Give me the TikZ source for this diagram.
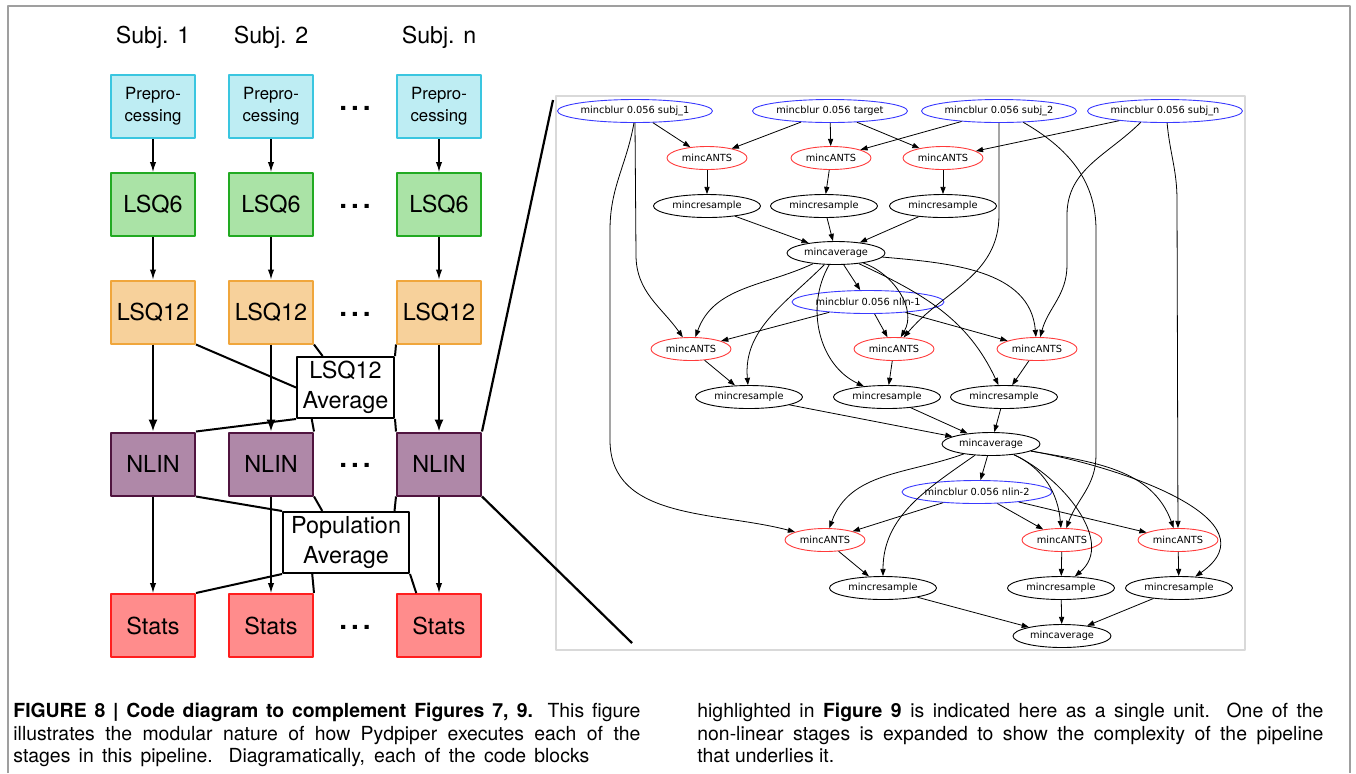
\documentclass[tikz,border=0pt]{standalone}
\usepackage{fontspec}
\setmainfont{TeX Gyre Heros}
\newfontfamily\gvfont{DejaVu Sans}
\usetikzlibrary{arrows.meta,shapes.geometric}
\definecolor{preFill}{HTML}{BEEDF3}
\definecolor{preLine}{HTML}{3AC6E0}
\definecolor{sixFill}{HTML}{AAE3A6}
\definecolor{sixLine}{HTML}{22AA22}
\definecolor{twFill}{HTML}{F7D19B}
\definecolor{twLine}{HTML}{F0A63C}
\definecolor{nlFill}{HTML}{AF88A8}
\definecolor{nlLine}{HTML}{50143F}
\definecolor{stFill}{HTML}{FF8C8C}
\definecolor{stLine}{HTML}{FF1E1E}
\definecolor{gvBlue}{HTML}{3A3AFF}
\definecolor{gvRed}{HTML}{FF3A3A}
\begin{document}
\begin{tikzpicture}[x=0.5pt, y=-0.5pt, line join=round,
    stage/.style={draw, line width=1pt, minimum width=42pt, minimum height=31.5pt,
      inner sep=0pt, align=center, font=\fontsize{11.7}{15}\selectfont},
    avgbox/.style={stage, fill=white, draw=black, minimum height=30.5pt},
    hdots/.style={inner sep=0pt, anchor=base, font=\bfseries\fontsize{14}{14}\selectfont},
    flow/.style={line width=0.6pt, -{Latex[length=5pt,width=3.2pt]}},
    bigflow/.style={line width=1.1pt, -{Latex[length=6pt,width=4.6pt]}},
    link/.style={line width=1pt},
    gv/.style={ellipse, draw, line width=0.45pt, inner sep=0pt, minimum height=11.5pt,
      font=\gvfont\fontsize{4.9}{5.5}\selectfont},
    gvblur/.style={gv, draw=gvBlue, minimum width=77.5pt},
    gvants/.style={gv, draw=gvRed, minimum width=40pt},
    gvres/.style={gv, minimum width=53.5pt},
    gvavg/.style={gv, minimum width=49pt},
    gvedge/.style={line width=0.4pt, -{Triangle[length=3.6pt,width=2.6pt]}},
    capline/.style={anchor=base west, inner sep=0pt, font=\fontsize{9.7}{11}\selectfont}]
  \useasboundingbox (0,0) rectangle (1356,773);
  % frame
  \draw[gray!75, line width=0.9pt] (8,773) -- (8,6) -- (1350,6) -- (1350,773);
  % subjects
  \foreach \c/\x/\s in {A/153/1, B/271/2, C/439/n} {
    \node[font=\fontsize{11.6}{14}\selectfont] (subj\c) at (\x,37) {Subj. \s};
    \node[stage, fill=preFill, draw=preLine, font=\fontsize{8.4}{11}\selectfont] (pre\c) at (\x,106.5) {Prepro-\\cessing};
    \node[stage, fill=sixFill, draw=sixLine] (six\c) at (\x,204.5) {LSQ6};
    \node[stage, fill=twFill, draw=twLine] (tw\c) at (\x,312) {LSQ12};
    \node[stage, fill=nlFill, draw=nlLine] (nl\c) at (\x,464) {NLIN};
    \node[stage, fill=stFill, draw=stLine] (st\c) at (\x,625.5) {Stats};
    \draw[flow] (pre\c) -- (six\c);
    \draw[flow] (six\c) -- (tw\c);
    \draw[bigflow] (tw\c) -- (nl\c);
    \draw[flow] (nl\c) -- (st\c);
  }
  \foreach \y/\k in {110/1, 208/2, 316/3, 467/4, 629/5}
    \node[hdots] (dots\k) at (355,\y) {.\kern2pt.\kern2pt.};
  % averages
  \node[avgbox, minimum width=48.5pt] (avgTw) at (345.5,387.5) {LSQ12\\Average};
  \node[avgbox, minimum width=63pt] (avgPop) at (346,542.5) {Population\\Average};
  \draw[link] (twA.south east) -- (avgTw.west);
  \draw[link] (twB.south east) -- (avgTw.126);
  \draw[link] (twC.south west) -- (avgTw.north east);
  \draw[link] (avgTw.south west) -- (nlA.north east);
  \draw[link] (avgTw.223) -- (nlB.north east);
  \draw[link] (avgTw.south east) -- (nlC.north west);
  \draw[link] (nlA.south east) -- (avgPop.north west);
  \draw[link] (nlB.south east) -- (avgPop.127);
  \draw[link] (nlC.south west) -- (avgPop.33.5);
  \draw[link] (avgPop.south west) -- (stA.north east);
  \draw[link] (avgPop.223.6) -- (stB.north east);
  \draw[link] (avgPop.south east) -- (stC.125);
  % expanded NLIN
  \draw[gray!30, line width=0.6pt] (556,96) rectangle (1245,650);
  \coordinate (zTop) at (553,100);
  \coordinate (zBot) at (632,643);
  \draw[line width=1.1pt] (nlC.north east) -- (zTop);
  \draw[line width=1.1pt] (nlC.south east) -- (zBot);
  \node[gvblur] (b1) at (635,111) {mincblur 0.056 subj\_1};
  \node[gvblur] (bt) at (830,111) {mincblur 0.056 target};
  \node[gvblur] (b2) at (999,111) {mincblur 0.056 subj\_2};
  \node[gvblur] (bn) at (1165,111) {mincblur 0.056 subj\_n};
  \node[gvants] (a1a) at (707,158) {mincANTS};
  \node[gvants] (a1b) at (831,158) {mincANTS};
  \node[gvants] (a1c) at (943,158) {mincANTS};
  \node[gvres] (r1a) at (707,206) {mincresample};
  \node[gvres] (r1b) at (824,206) {mincresample};
  \node[gvres] (r1c) at (943,206) {mincresample};
  \node[gvavg] (v1) at (836,253) {mincaverage};
  \node[gvblur, minimum width=76pt] (n1) at (868,302) {mincblur 0.056 nlin-1};
  \node[gvants] (a2a) at (691,349) {mincANTS};
  \node[gvants] (a2b) at (894,349) {mincANTS};
  \node[gvants] (a2c) at (1037,349) {mincANTS};
  \node[gvres] (r2a) at (749,397) {mincresample};
  \node[gvres] (r2b) at (887,397) {mincresample};
  \node[gvres] (r2c) at (1004,397) {mincresample};
  \node[gvavg] (v2) at (991,444) {mincaverage};
  \node[gvblur, minimum width=75pt] (n2) at (977,492) {mincblur 0.056 nlin-2};
  \node[gvants] (a3a) at (825,540) {mincANTS};
  \node[gvants] (a3b) at (1062,540) {mincANTS};
  \node[gvants] (a3c) at (1178,540) {mincANTS};
  \node[gvres] (r3a) at (883,588) {mincresample};
  \node[gvres] (r3b) at (1061,588) {mincresample};
  \node[gvres] (r3c) at (1179,588) {mincresample};
  \node[gvavg] (v3) at (1062,636) {mincaverage};
  \foreach \s/\t in {b1/a1a, bt/a1a, bt/a1b, bt/a1c, b2/a1b, bn/a1c,
      a1a/r1a, a1b/r1b, a1c/r1c, r1a/v1, r1b/v1, r1c/v1,
      v1/n1, n1/a2a, n1/a2b, n1/a2c, a2a/r2a, a2b/r2b, a2c/r2c,
      r2a/v2, r2b/v2, r2c/v2, v2/n2, n2/a3a, n2/a3b, n2/a3c,
      a3a/r3a, a3b/r3b, a3c/r3c, r3a/v3, r3b/v3, r3c/v3}
    \draw[gvedge] (\s) -- (\t);
  \draw[gvedge] (v1) to[out=205,in=70] (a2a);
  \draw[gvedge] (v1) to[out=225,in=95] (r2a);
  \draw[gvedge] (v1) to[out=240,in=155] (r2b);
  \draw[gvedge] (v1) to[out=-20,in=60] (a2b);
  \draw[gvedge] (v1) to[out=-25,in=115] (r2c);
  \draw[gvedge] (v1) to[out=-5,in=95] (a2c);
  \draw[gvedge] (b1.south) -- (636,255) to[out=-90,in=125] (a2a);
  \draw[gvedge] (b1.265) to[out=-100,in=90] (610,230) -- (610,440) to[out=-90,in=165] (a3a);
  \draw[gvedge] (b2.south) -- (999,215) to[out=-90,in=50] (a2b);
  \draw[gvedge] (b2.-25) to[out=-30,in=90] (1096,230) -- (1096,455) to[out=-90,in=70] (a3b);
  \draw[gvedge] (bn.205) to[out=-135,in=90] (1067,215) -- (1067,265) to[out=-90,in=75] (a2c);
  \draw[gvedge] (bn.-80) to[out=-85,in=90] (1177,200) -- (a3c);
  \draw[gvedge] (v2) to[out=200,in=70] (a3a);
  \draw[gvedge] (v2) to[out=215,in=90] (r3a);
  \draw[gvedge] (v2) to[out=-25,in=95] (a3b);
  \draw[gvedge] (v2) to[out=-25,in=40] (r3b);
  \draw[gvedge] (v2) to[out=-10,in=110] (a3c);
  \draw[gvedge] (v2) to[out=-10,in=35,looseness=1.2] (r3c);
  % caption
  \node[capline] (capL1) at (13,717) {\makebox[313.5pt][s]{\textbf{FIGURE 8 | Code diagram to complement Figures 7, 9.} This figure}};
  \node[capline] (capL2) at (13,740) {\makebox[313.5pt][s]{illustrates the modular nature of how Pydpiper executes each of the}};
  \node[capline] (capL3) at (13,762) {\makebox[288pt][s]{stages in this pipeline. Diagramatically, each of the code blocks}};
  \node[capline] (capR1) at (697,717) {\makebox[313pt][s]{highlighted in \textbf{Figure 9} is indicated here as a single unit. One of the}};
  \node[capline] (capR2) at (697,740) {\makebox[313pt][s]{non-linear stages is expanded to show the complexity of the pipeline}};
  \node[capline] (capR3) at (697,762) {that underlies it.};
\end{tikzpicture}
\end{document}
